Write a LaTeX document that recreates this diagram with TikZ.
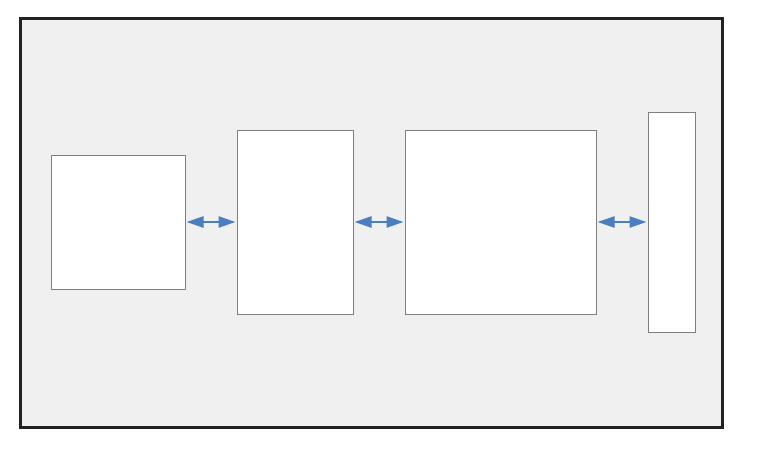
\documentclass[tikz,border=0pt]{standalone}
\usepackage{tikz}
\usetikzlibrary{arrows.meta}

\definecolor{framegray}{HTML}{222222}
\definecolor{panelgray}{HTML}{F0F0F0}
\definecolor{boxedge}{HTML}{7F7F7F}
\definecolor{linkblue}{HTML}{4A7EC0}

\tikzset{
	block/.style={draw=boxedge, line width=1pt, fill=white, inner sep=0pt},
	link/.style={linkblue, line width=2.4pt, {Triangle[length=17pt, width=11pt]}-{Triangle[length=17pt, width=11pt]}, shorten <=1pt, shorten >=1pt}
}

\begin{document}
\begin{tikzpicture}[x=1pt, y=-1pt]
			% Page size
			\useasboundingbox (0, 0) rectangle (762, 448);
			% Outer panel
			\draw[framegray, line width=3pt, fill=panelgray] (20, 18) rectangle (722, 427);
			% Blocks
			\node[block, minimum width=134pt, minimum height=134pt] (left) at (118, 222) {};
			\node[block, minimum width=116pt, minimum height=184pt] (midleft) at (295, 222) {};
			\node[block, minimum width=191pt, minimum height=184pt] (midright) at (500.5, 222) {};
			\node[block, minimum width=47pt, minimum height=220pt] (right) at (671.5, 222) {};
			% Links
			\draw[link] (left) -- (midleft);
			\draw[link] (midleft) -- (midright);
			\draw[link] (midright) -- (right);
		\end{tikzpicture}
\end{document}
